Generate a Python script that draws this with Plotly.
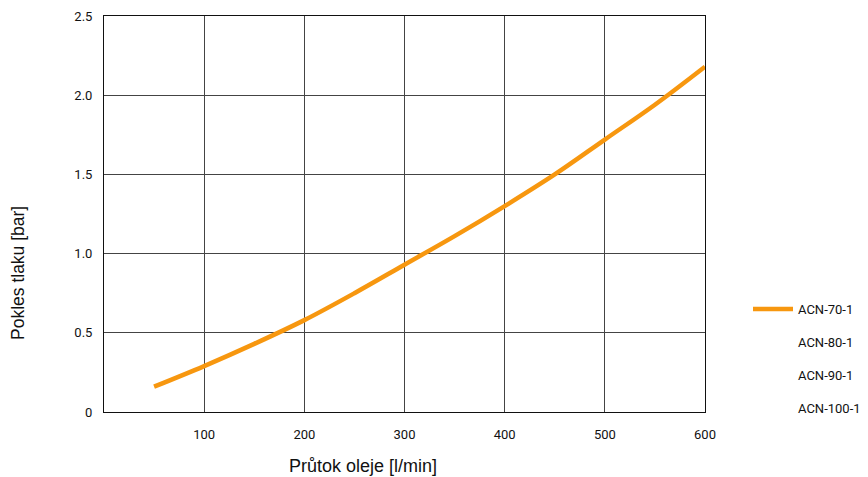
import plotly.graph_objects as go

flow = [50, 100, 150, 200, 250, 300, 350, 400, 450, 500, 550, 600]
drop_acn70 = [0.16, 0.29, 0.43, 0.58, 0.75, 0.93, 1.11, 1.30, 1.50, 1.72, 1.94, 2.18]
series_names = ["ACN-70-1", "ACN-80-1", "ACN-90-1", "ACN-100-1"]
x_ticks = [100, 200, 300, 400, 500, 600]
y_ticks = [0, 0.5, 1.0, 1.5, 2.0, 2.5]
y_tick_text = ["0", "0.5", "1.0", "1.5", "2.0", "2.5"]

fig = go.Figure()
fig.add_trace(go.Scatter(x=flow, y=drop_acn70, mode="lines", name=series_names[0],
                         legendgroup="g0",
                         line=dict(color="#F7970F", width=4.5, shape="spline")))
for i, nm in enumerate(series_names[1:]):
    fig.add_trace(go.Scatter(x=[None], y=[None], mode="lines", name=nm,
                             legendgroup="g%d" % (i + 1),
                             line=dict(color="rgba(0,0,0,0)", width=4)))

OFF = 7  # page offset of the figure
W, H = 868 - OFF, 477 - OFF
tick_font = dict(family="Liberation Sans Narrow, Roboto, sans-serif", size=13, color="#111")
fig.update_layout(
    width=W, height=H,
    margin=dict(l=103 - OFF, r=OFF + W - 704, t=15 - OFF, b=OFF + H - 411, autoexpand=False),
    paper_bgcolor="white", plot_bgcolor="white",
    showlegend=True,
    legend=dict(xref="container", yref="container", x=(747 - OFF)/W, y=1 - (293 - OFF)/H,
                xanchor="left", yanchor="top",
                font=dict(family="Liberation Sans Narrow, Roboto, sans-serif", size=13, color="#111"),
                tracegroupgap=13, itemwidth=40),
    xaxis=dict(range=[0, 600], tickvals=x_ticks, showgrid=True, gridcolor="#444", gridwidth=1,
               showline=True, linecolor="#111", linewidth=1, mirror=True, zeroline=False,
               automargin=False,
               ticks="", ticklabelstandoff=10, tickfont=tick_font),
    yaxis=dict(range=[0, 2.5], tickvals=y_ticks, ticktext=y_tick_text, showgrid=True,
               gridcolor="#444", gridwidth=1, showline=True, linecolor="#111", linewidth=1,
               automargin=False,
               mirror=True, zeroline=False, ticks="", ticklabelstandoff=8, tickfont=tick_font),
    annotations=[
        dict(text="Průtok oleje [l/min]", xref="paper", yref="paper", x=(362-103)/601, y=-(465-411)/396,
             xanchor="center", yanchor="middle", showarrow=False,
             font=dict(family="Liberation Sans, Arial, sans-serif", size=18, color="#111")),
        dict(text="Pokles tlaku [bar]", xref="paper", yref="paper", x=-(103-17)/601, y=(411-272)/396,
             xanchor="center", yanchor="middle", showarrow=False, textangle=-90,
             font=dict(family="Liberation Sans, Arial, sans-serif", size=17.5, color="#111")),
    ],
)
fig.write_html("out.html")
